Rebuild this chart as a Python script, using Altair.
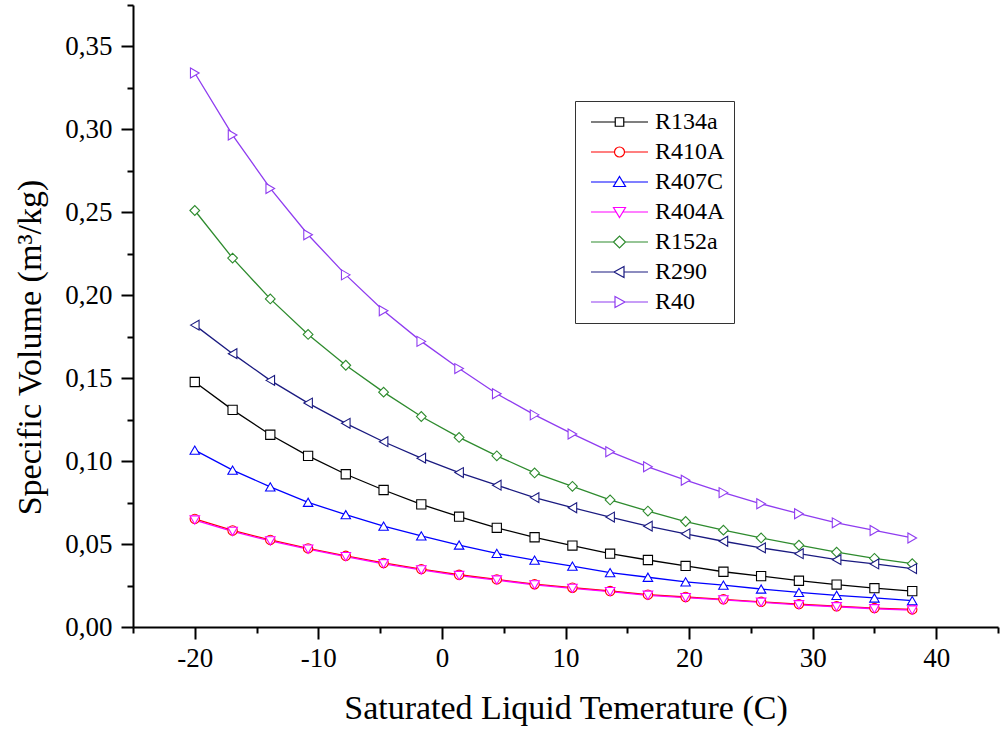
import altair as alt
import pandas as pd

temps = [-20.0, -16.94, -13.89, -10.83, -7.78, -4.72, -1.67, 1.39, 4.44, 7.50,
         10.56, 13.61, 16.67, 19.72, 22.78, 25.83, 28.89, 31.94, 35.0, 38.06]

series_names = ["R134a", "R410A", "R407C", "R404A", "R152a", "R290", "R40"]
series_colors = ["#000000", "#ff0000", "#0000ff", "#ff00ff", "#2e8b2e", "#1a1a80", "#8f3cf0"]
plot_shapes = ["square", "circle", "triangle-up", "triangle-down", "diamond", "triangle-left", "triangle-right"]
plot_sizes = [85, 100, 135, 135, 150, 135, 135]

# legend symbols: line + marker, as custom paths
legend_shapes = [
    "M-1,0H3.85M5.55,0H10.4M3.85,-0.85H5.55V0.85H3.85Z",
    "M-1,0H3.7M5.7,0H10.4M3.7,0A1,1 0 1,0 5.7,0A1,1 0 1,0 3.7,0Z",
    "M-1,0H4.04M5.36,0H10.4M4.7,-1.1L5.9,0.9L3.5,0.9Z",
    "M-1,0H4.04M5.36,0H10.4M4.7,1.1L5.9,-0.9L3.5,-0.9Z",
    "M-1,0H3.5M5.9,0H10.4M3.5,0L4.7,-1.2L5.9,0L4.7,1.2Z",
    "M-1,0H3.6M5.6,0H10.4M3.6,0L5.6,-1.1L5.6,1.1Z",
    "M-1,0H3.8M5.8,0H10.4M5.8,0L3.8,-1.1L3.8,1.1Z",
]

r134a = [0.1477, 0.1309, 0.1159, 0.1032, 0.0921, 0.0826, 0.0739, 0.0665, 0.0598, 0.0541,
         0.0491, 0.0442, 0.0404, 0.0368, 0.0333, 0.0307, 0.0279, 0.0256, 0.0234, 0.0216]
r410a = [0.0652, 0.0582, 0.0525, 0.0474, 0.0429, 0.0386, 0.0349, 0.0315, 0.0287, 0.0258,
         0.0237, 0.0217, 0.0195, 0.0181, 0.0167, 0.0152, 0.0138, 0.0125, 0.0114, 0.0106]
r407c = [0.1066, 0.0946, 0.0845, 0.0752, 0.0677, 0.0608, 0.0549, 0.0494, 0.0444, 0.0403,
         0.0367, 0.0328, 0.0300, 0.0272, 0.0252, 0.0229, 0.0209, 0.0191, 0.0175, 0.0159]
r404a = [0.0645, 0.0576, 0.0519, 0.0469, 0.0424, 0.0381, 0.0344, 0.0310, 0.0283, 0.0254,
         0.0233, 0.0213, 0.0191, 0.0177, 0.0163, 0.0149, 0.0134, 0.0122, 0.0110, 0.0102]
r152a = [0.2511, 0.2224, 0.1978, 0.1764, 0.1578, 0.1416, 0.1269, 0.1143, 0.1032, 0.0929,
         0.0848, 0.0766, 0.0699, 0.0636, 0.0584, 0.0537, 0.0493, 0.0451, 0.0414, 0.0382]
r290 = [0.1820, 0.1648, 0.1487, 0.1350, 0.1228, 0.1117, 0.1018, 0.0931, 0.0855, 0.0780,
        0.0719, 0.0663, 0.0608, 0.0562, 0.0517, 0.0477, 0.0442, 0.0406, 0.0380, 0.0352]
r40 = [0.3340, 0.2966, 0.2644, 0.2365, 0.2123, 0.1907, 0.1722, 0.1558, 0.1406, 0.1279,
       0.1164, 0.1057, 0.0966, 0.0885, 0.0810, 0.0743, 0.0683, 0.0628, 0.0582, 0.0537]

x_ticks = [-25, -20, -15, -10, -5, 0, 5, 10, 15, 20, 25, 30, 35, 40, 45]
y_ticks = [0.0, 0.025, 0.05, 0.075, 0.1, 0.125, 0.15, 0.175, 0.2, 0.225,
           0.25, 0.275, 0.3, 0.325, 0.35, 0.375]

all_series = [r134a, r410a, r407c, r404a, r152a, r290, r40]
rows = []
for name, vals in zip(series_names, all_series):
    for t, v in zip(temps, vals):
        rows.append({"T": t, "v": v, "series": name})
df = pd.DataFrame(rows)

FONT = "Liberation Serif"
X_MAJOR = "datum.value % 10 == 0"
Y_MAJOR = "abs(round(datum.value*1000) % 50) == 0"

x_enc = alt.X(
    "T:Q",
    scale=alt.Scale(domain=[-25, 45], nice=False, zero=False),
    axis=alt.Axis(
        values=x_ticks,
        title="Saturated Liquid Temerature (C)",
        titleFont=FONT, titleFontSize=34, titleFontWeight="normal", titleColor="black",
        titlePadding=20,
        labelFont=FONT, labelFontSize=27, labelColor="black", labelPadding=6,
        labelExpr=X_MAJOR + " ? ('' + datum.value) : ''",
        labelFlush=False, labelOverlap=False,
        tickSize={"condition": {"test": X_MAJOR, "value": 12}, "value": 6},
        tickWidth=2, tickColor="black",
        domainWidth=2, domainColor="black", grid=False,
    ),
)
y_enc = alt.Y(
    "v:Q",
    scale=alt.Scale(domain=[0, 0.375], nice=False, zero=True),
    axis=alt.Axis(
        values=y_ticks,
        title="Specific Volume (m³/kg)",
        titleFont=FONT, titleFontSize=34, titleFontWeight="normal", titleColor="black",
        titlePadding=17, titleY=342,
        labelFont=FONT, labelFontSize=27, labelColor="black", labelPadding=9,
        labelExpr=Y_MAJOR + " ? replace(format(datum.value, '.2f'), '.', ',') : ''",
        labelFlush=False, labelOverlap=False,
        tickSize={"condition": {"test": Y_MAJOR, "value": 12}, "value": 6},
        tickWidth=2, tickColor="black",
        domainWidth=2, domainColor="black", grid=False,
    ),
)

stroke_scale = alt.Scale(domain=series_names, range=series_colors)

lines = alt.Chart(df).mark_line(strokeWidth=1.3).encode(
    x=x_enc, y=y_enc,
    stroke=alt.Stroke("series:N", scale=stroke_scale, legend=None),
    order="T:Q",
)

points = alt.Chart(df).mark_point(fill="white", fillOpacity=1, strokeWidth=1.1, opacity=1).encode(
    x=x_enc, y=y_enc,
    stroke=alt.Stroke("series:N", scale=stroke_scale, legend=None),
    shape=alt.Shape("series:N", scale=alt.Scale(domain=series_names, range=plot_shapes), legend=None),
    size=alt.Size("series:N", scale=alt.Scale(domain=series_names, range=plot_sizes), legend=None),
)

legend_kw = dict(
    title=None, orient="none", legendX=442, legendY=96,
    labelFont=FONT, labelFontSize=24, labelColor="black",
    labelOffset=47, rowPadding=6, padding=9,
    strokeColor="#333333", fillColor="white",
    symbolSize=100, symbolStrokeWidth=1.2,
)
legend_layer = alt.Chart(df).mark_point(filled=False, strokeWidth=1.2, opacity=1).encode(
    x=x_enc, y=y_enc,
    stroke=alt.Stroke("series:N", scale=stroke_scale, legend=alt.Legend(**legend_kw)),
    shape=alt.Shape("series:N", scale=alt.Scale(domain=series_names, range=legend_shapes),
                    legend=alt.Legend(**legend_kw)),
).transform_filter("false")

chart = alt.layer(lines, points, legend_layer).resolve_scale(
    stroke="independent", shape="independent", size="independent"
).properties(
    width=865, height=622,
    autosize=alt.AutoSizeParams(type="none"),
    padding={"left": 133, "top": 5, "right": 3, "bottom": 102},
    background="white",
).configure_view(stroke=None)

chart.save("out.html", embed_options={"renderer": "svg", "actions": False})
